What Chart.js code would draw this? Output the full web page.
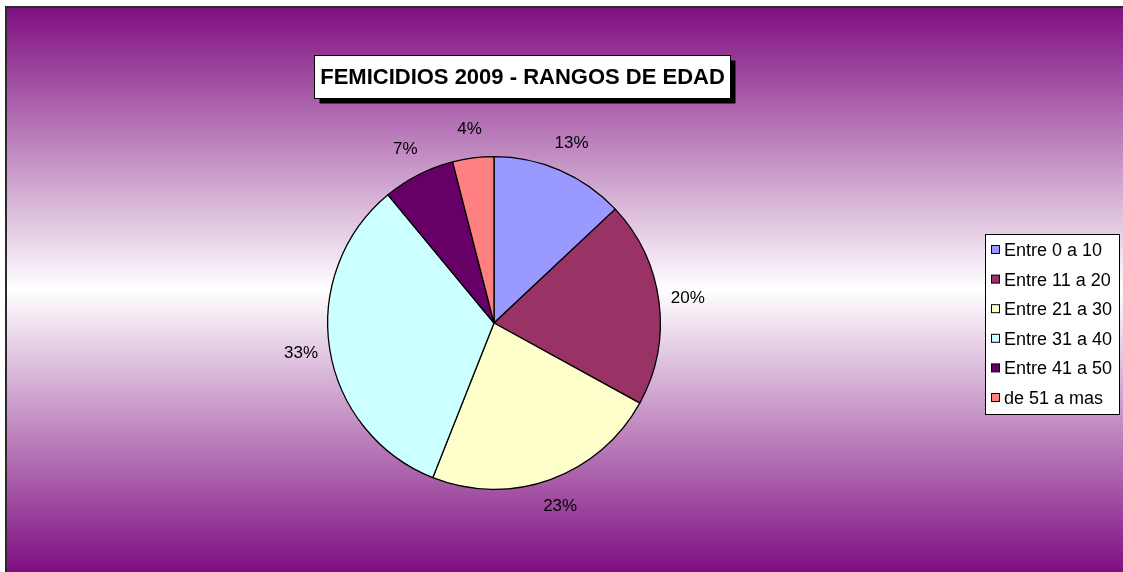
<!DOCTYPE html>
<html>
<head>
<meta charset="utf-8">
<script src="https://cdn.jsdelivr.net/npm/chart.js@4.4.1/dist/chart.umd.min.js"></script>
<style>
  html, body { margin: 0; padding: 0; background: #ffffff; }
  #wrap { width: 1123px; height: 572px; position: relative; }
</style>
</head>
<body>
<div id="wrap"><canvas id="c" width="1123" height="572"></canvas></div>
<script>
const titleText = 'FEMICIDIOS 2009 - RANGOS DE EDAD';
const categories = ['Entre 0 a 10', 'Entre 11 a 20', 'Entre 21 a 30', 'Entre 31 a 40', 'Entre 41 a 50', 'de 51 a mas'];
const percentValues = [13, 20, 23, 33, 7, 4];
const sliceColors = ['#9999FF', '#993366', '#FFFFCC', '#CCFFFF', '#660066', '#FF8080'];

const FONT = '"Liberation Sans", Arial, sans-serif';

const backgroundPlugin = {
  id: 'bgPlugin',
  beforeDraw(chart) {
    const ctx = chart.ctx;
    const W = chart.width, H = chart.height;
    ctx.save();
    ctx.fillStyle = '#ffffff';
    ctx.fillRect(0, 0, W, H);
    const g = ctx.createLinearGradient(0, 7, 0, H);
    g.addColorStop(0, '#7f0f80');
    g.addColorStop(0.5, '#ffffff');
    g.addColorStop(1, '#7f0f80');
    ctx.fillStyle = g;
    ctx.fillRect(7, 8, W - 7, H - 8);
    ctx.strokeStyle = '#2a2a2a';
    ctx.lineWidth = 2;
    ctx.beginPath();
    ctx.moveTo(6, H);
    ctx.lineTo(6, 7);
    ctx.lineTo(W, 7);
    ctx.stroke();
    ctx.restore();
  }
};

const decorPlugin = {
  id: 'decorPlugin',
  afterDraw(chart) {
    const ctx = chart.ctx;
    ctx.save();
    // Title box with shadow
    const bx = 314.5, by = 55.5, bw = 416, bh = 43;
    ctx.fillStyle = '#000000';
    ctx.fillRect(bx + 5, by + 5, bw, bh);
    ctx.fillStyle = '#ffffff';
    ctx.fillRect(bx, by, bw, bh);
    ctx.strokeStyle = '#000000';
    ctx.lineWidth = 1;
    ctx.strokeRect(bx, by, bw, bh);
    ctx.fillStyle = '#000000';
    ctx.font = 'bold 22px ' + FONT;
    ctx.textAlign = 'center';
    ctx.textBaseline = 'middle';
    ctx.fillText(titleText, bx + bw / 2, by + bh / 2 + 1);

    // Percentage labels outside slices
    const meta = chart.getDatasetMeta(0);
    ctx.font = '17px ' + FONT;
    ctx.fillStyle = '#000000';
    meta.data.forEach((arc, i) => {
      const p = arc.getProps(['x', 'y', 'startAngle', 'endAngle', 'outerRadius'], true);
      const mid = (p.startAngle + p.endAngle) / 2;
      const d = p.outerRadius + 29;
      const lx = p.x + Math.cos(mid) * d;
      const ly = p.y + Math.sin(mid) * d;
      ctx.fillText(chart.data.datasets[0].data[i] + '%', lx, ly);
    });

    // Legend box
    const lx0 = 985.5, ly0 = 234.5, lw = 134, lh = 180;
    ctx.fillStyle = '#ffffff';
    ctx.fillRect(lx0, ly0, lw, lh);
    ctx.strokeStyle = '#000000';
    ctx.strokeRect(lx0, ly0, lw, lh);
    ctx.font = '18px ' + FONT;
    ctx.textAlign = 'left';
    ctx.textBaseline = 'middle';
    const step = 29.6;
    chart.data.labels.forEach((lab, i) => {
      const cy = 250 + i * step;
      ctx.fillStyle = sliceColors[i];
      ctx.fillRect(991.5, cy - 4.5, 8, 8);
      ctx.strokeStyle = '#000000';
      ctx.strokeRect(991.5, cy - 4.5, 8, 8);
      ctx.fillStyle = '#000000';
      ctx.fillText(lab, 1004, cy + 1);
    });
    ctx.restore();
  }
};

new Chart(document.getElementById('c'), {
  type: 'pie',
  data: {
    labels: categories,
    datasets: [{
      data: percentValues,
      backgroundColor: sliceColors,
      borderColor: '#000000',
      borderWidth: 1.3
    }]
  },
  options: {
    responsive: false,
    animation: false,
    devicePixelRatio: 1,
    layout: { padding: { top: 156, bottom: 82, left: 327, right: 462 } },
    plugins: {
      legend: { display: false },
      tooltip: { enabled: false },
      title: { display: false }
    },
    events: []
  },
  plugins: [backgroundPlugin, decorPlugin]
});
</script>
</body>
</html>
